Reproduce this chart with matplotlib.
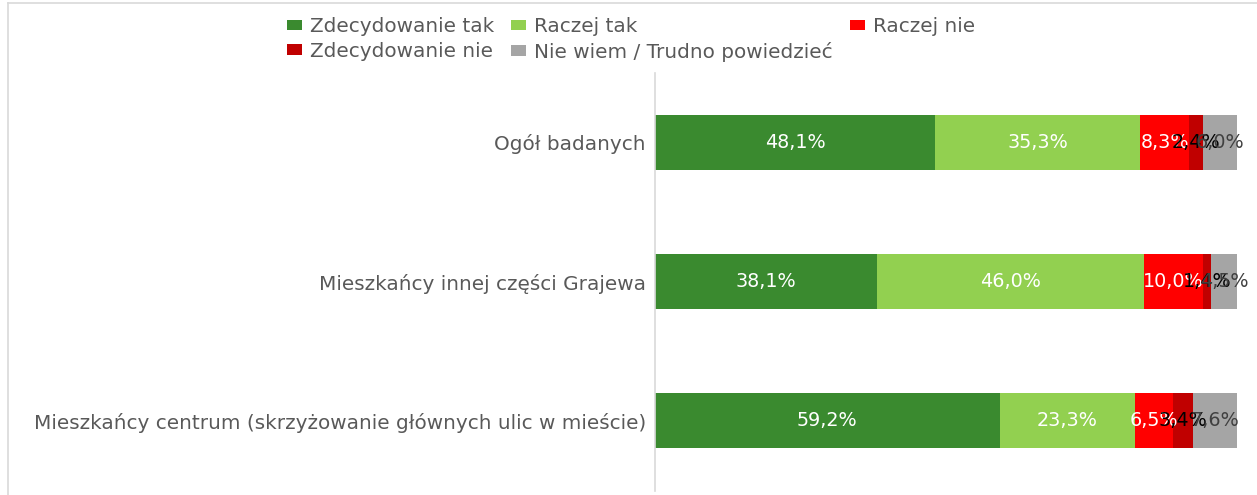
import matplotlib
matplotlib.use("Agg")
import matplotlib.pyplot as plt
from matplotlib.patches import Patch
from matplotlib.lines import Line2D

categories = ["Mieszkańcy centrum (skrzyżowanie głównych ulic w mieście)",
              "Mieszkańcy innej części Grajewa",
              "Ogół badanych"]
series_names = ["Zdecydowanie tak", "Raczej tak", "Raczej nie",
                "Zdecydowanie nie", "Nie wiem / Trudno powiedzieć"]
zdecydowanie_tak = [59.2, 38.1, 48.1]
raczej_tak = [23.3, 46.0, 35.3]
raczej_nie = [6.5, 10.0, 8.3]
zdecydowanie_nie = [3.4, 1.4, 2.4]
nie_wiem = [7.6, 4.5, 6.0]

series = [zdecydowanie_tak, raczej_tak, raczej_nie, zdecydowanie_nie, nie_wiem]
colors = ["#3a8a2f", "#92d050", "#ff0000", "#c00000", "#a5a5a5"]
label_colors = ["white", "white", "white", "black", "#404040"]

plt.rcParams['font.family'] = ['DejaVu Sans']

fig = plt.figure(figsize=(12.57, 4.95), dpi=100)
ax = fig.add_axes([655/1257, 1-490.5/495, (1237-655)/1257, (490.5-72.5)/495])

y = list(range(len(categories)))
left = [0.0]*len(categories)
for vals, col, lc, name in zip(series, colors, label_colors, series_names):
    ax.barh(y, vals, left=left, height=0.394, color=col, label=name)
    for i, v in enumerate(vals):
        ax.text(left[i] + v/2, y[i], f"{v:.1f}%".replace(".", ","),
                ha="center", va="center", color=lc, fontsize=13.8)
    left = [l + v for l, v in zip(left, vals)]

ax.set_xlim(0, 100)
ax.set_ylim(-0.5, 2.5)
ax.set_yticks(y)
ax.set_yticklabels(categories, fontsize=14.4, color="#595959")
ax.tick_params(axis='y', length=0, pad=6.5)
ax.set_xticks([])
for s in ["top", "right", "bottom"]:
    ax.spines[s].set_visible(False)
ax.spines["left"].set_color("#d9d9d9")
ax.spines["left"].set_linewidth(1.2)

handles = [Patch(facecolor=c, edgecolor='none') for c in colors]
order = [0, 3, 1, 4, 2]
leg = fig.legend([handles[i] for i in order], [series_names[i] for i in order],
                 ncol=3, loc="upper left", bbox_to_anchor=(287/1257, 1-17/495),
                 frameon=False, fontsize=14.4, handlelength=0.75, handleheight=0.45,
                 handletextpad=0.4, columnspacing=0.85, labelspacing=0.28,
                 borderpad=0, borderaxespad=0)
for t in leg.get_texts():
    t.set_color("#595959")

# outer border (chart area)
fig.add_artist(Line2D([8/1257, 8/1257], [0, 1-2.5/495], color="#d9d9d9", lw=1.2))
fig.add_artist(Line2D([8/1257, 1], [1-2.5/495, 1-2.5/495], color="#d9d9d9", lw=1.2))

fig.savefig("out.png", dpi=100)
